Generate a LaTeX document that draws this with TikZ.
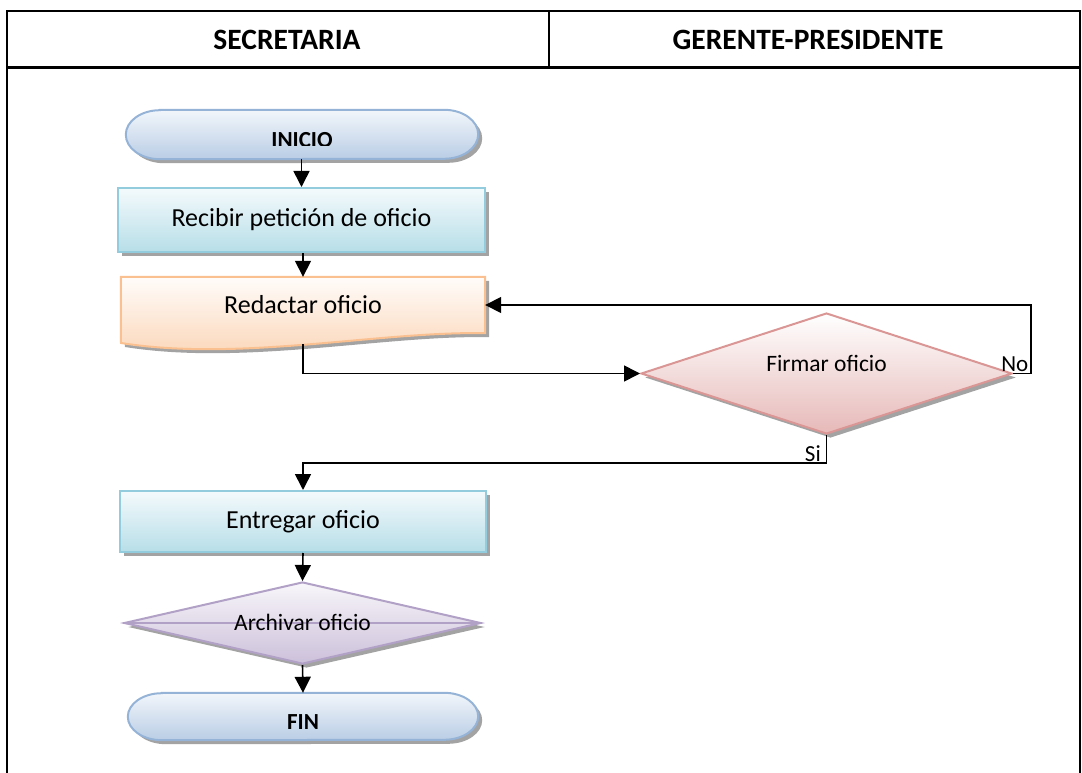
\documentclass[tikz,border=0pt]{standalone}
\usepackage{fontspec}
\setmainfont{Carlito}
\usetikzlibrary{shapes.geometric,shadows,arrows.meta,calc}

\definecolor{procline}{HTML}{93CDDD}
\definecolor{proctop}{HTML}{F4FAFC}
\definecolor{procbot}{HTML}{B7DEE8}
\definecolor{docline}{HTML}{FAC090}
\definecolor{doctop}{HTML}{FFFCFA}
\definecolor{docbot}{HTML}{FBD4B4}
\definecolor{decline}{HTML}{D99694}
\definecolor{decbot}{HTML}{E6B9B8}
\definecolor{sortline}{HTML}{B2A1C7}
\definecolor{sorttop}{HTML}{F8F6FA}
\definecolor{sortbot}{HTML}{CCC0DA}
\definecolor{termline}{HTML}{95B3D7}
\definecolor{termtop}{HTML}{F2F6FB}
\definecolor{termbot}{HTML}{B9CDE5}
\definecolor{shadowgray}{HTML}{A3A3A3}

\begin{document}
\begin{tikzpicture}[x=1pt,y=1pt,
  shadowed/.style={drop shadow={shadow xshift=4pt,shadow yshift=-4pt,fill=shadowgray,opacity=1}},
  holder/.style={rectangle,draw=none,inner sep=0pt},
  procbox/.style={rectangle,draw=procline,line width=2pt,top color=proctop,bottom color=procbot,
    inner sep=0pt,font=\fontsize{26}{30}\selectfont,shadowed},
  docshape/.style={draw=docline,line width=2pt,top color=doctop,bottom color=docbot,shadowed},
  termshape/.style={draw=termline,line width=2pt,top color=termtop,bottom color=termbot,shadowed},
  decision/.style={diamond,draw=decline,line width=2pt,top color=white,bottom color=decbot,inner sep=0pt,shadowed},
  sortshape/.style={diamond,draw=sortline,line width=2pt,top color=sorttop,bottom color=sortbot,inner sep=0pt,shadowed},
  boxtext/.style={font=\fontsize{26}{30}\selectfont,inner sep=0pt},
  dectext/.style={font=\fontsize{23.5}{28}\selectfont,inner sep=0pt},
  termtext/.style={font=\bfseries\fontsize{23}{27}\selectfont,inner sep=0pt,anchor=base},
  hdr/.style={font=\bfseries\fontsize{29.5}{34}\selectfont,inner sep=0pt},
  lbl/.style={font=\fontsize{23}{27}\selectfont,inner sep=1.5pt},
  link/.style={line width=1.6pt,-{Triangle[length=16pt,width=16pt]}},
  frameline/.style={line width=1.5pt}
]
\useasboundingbox (0,0) rectangle (1082,-773);

% swimlane frame and header
\draw[frameline] (7,-773) -- (7,-11) -- (1080,-11) -- (1080,-773);
\draw[frameline] (549,-11) -- (549,-68);
\draw[line width=3pt] (7,-68) -- (1080,-68);
\node[hdr] (hsec) at (287,-39.5) {SECRETARIA};
\node[hdr] (hger) at (808,-39.5) {GERENTE-PRESIDENTE};

% start terminal
\node[holder,minimum width=352pt,minimum height=49pt] (inicio) at (302,-134.5) {};
\path[termshape] ($(inicio.north west)+(34,0)$) -- ($(inicio.north east)+(-34,0)$)
  arc[start angle=90,end angle=-90,x radius=34,y radius=24.5]
  -- ($(inicio.south west)+(34,0)$)
  arc[start angle=270,end angle=90,x radius=34,y radius=24.5] -- cycle;
\begin{scope}
  \clip (inicio.north west) rectangle ($(inicio.east)+(0,-11)$);
  \node[termtext] (tinicio) at (302,-148) {INICIO};
\end{scope}

% first process
\node[procbox,minimum width=367pt,minimum height=64pt] (recibir) at (301.5,-220) {Recibir petición de oficio};

% document shape
\node[holder,minimum width=364pt,minimum height=56pt] (redactar) at (303,-305) {};
\path[docshape] (redactar.north west) -- (redactar.north east) -- (redactar.south east)
  .. controls (380,-331) and (240,-362) .. (121,-343) -- cycle;
\node[boxtext] (tredactar) at (303,-305) {Redactar oficio};
\coordinate (redactarbase) at (303,-344);

% decision in the manager lane
\node[decision,minimum width=371pt,minimum height=121pt] (firmar) at (826.5,-373.5) {};
\node[dectext] (tfirmar) at (826.5,-363) {Firmar oficio};

% delivery process
\node[procbox,minimum width=366pt,minimum height=61pt] (entregar) at (303,-521.5) {Entregar oficio};

% archive (sort) shape
\node[sortshape,minimum width=357pt,minimum height=82pt] (archivar) at (302.5,-623) {};
\draw[sortline,line width=2pt] (archivar.west) -- (archivar.east);
\node[dectext] (tarchivar) at (302.5,-622) {Archivar oficio};

% end terminal
\node[holder,minimum width=350pt,minimum height=47pt] (fin) at (303,-716.5) {};
\path[termshape] ($(fin.north west)+(34,0)$) -- ($(fin.north east)+(-34,0)$)
  arc[start angle=90,end angle=-90,x radius=34,y radius=23.5]
  -- ($(fin.south west)+(34,0)$)
  arc[start angle=270,end angle=90,x radius=34,y radius=23.5] -- cycle;
\node[termtext] (tfin) at (303,-729.5) {FIN};

% connectors
\draw[link] (inicio.south -| recibir.north) -- (recibir.north);
\draw[link] (recibir.south -| redactar.north) -- (redactar.north);
\draw[link] (redactarbase) |- (firmar.west);
\draw[link] (firmar.east) -- ++(18,0) coordinate (nocorner) |- (redactar.east);
\node[lbl,anchor=south east] (lno) at ($(nocorner)+(-1,0)$) {No};
\draw[link] (firmar.south) -- ++(0,-28) coordinate (sicorner) -| (entregar.north);
\node[lbl,anchor=south east] (lsi) at ($(sicorner)+(-4,0)$) {Si};
\draw[link] (entregar.south) -- (archivar.north);
\draw[link] (archivar.south) -- (fin.north);
\end{tikzpicture}
\end{document}
